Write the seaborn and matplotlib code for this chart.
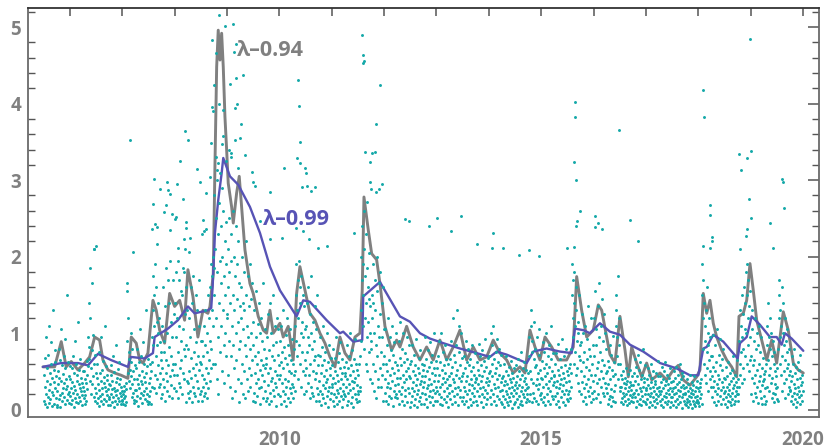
import matplotlib
matplotlib.use("Agg")
import matplotlib.pyplot as plt
import seaborn as sns
import pandas as pd
from matplotlib.ticker import FixedLocator, MultipleLocator, FuncFormatter

# ---------------- data ----------------
# EWMA volatility, lambda = 0.94 (gray)
years_094 = [2005.485, 2005.709, 2005.835, 2005.930, 2006.026, 2006.154, 2006.282, 2006.377, 2006.473, 2006.568,
             2006.631, 2006.727, 2006.854, 2006.981, 2007.108, 2007.172, 2007.267, 2007.332, 2007.395, 2007.490,
             2007.586, 2007.649, 2007.714, 2007.809, 2007.905, 2008.000, 2008.096, 2008.191, 2008.254, 2008.350,
             2008.445, 2008.541, 2008.636, 2008.675, 2008.738, 2008.770, 2008.803, 2008.833, 2008.866, 2008.898,
             2008.929, 2008.961, 2008.994, 2009.024, 2009.089, 2009.120, 2009.184, 2009.234, 2009.280, 2009.343,
             2009.438, 2009.501, 2009.597, 2009.693, 2009.757, 2009.820, 2009.884, 2010.011, 2010.074, 2010.170,
             2010.265, 2010.330, 2010.393, 2010.489, 2010.584, 2010.680, 2010.775, 2010.871, 2010.966, 2011.062,
             2011.157, 2011.253, 2011.348, 2011.444, 2011.539, 2011.583, 2011.616, 2011.698, 2011.763, 2011.858,
             2011.921, 2012.017, 2012.145, 2012.240, 2012.303, 2012.431, 2012.557, 2012.685, 2012.813, 2012.939,
             2013.067, 2013.195, 2013.321, 2013.449, 2013.577, 2013.703, 2013.831, 2013.959, 2014.085, 2014.213,
             2014.341, 2014.467, 2014.595, 2014.691, 2014.786, 2014.882, 2014.977, 2015.073, 2015.201, 2015.327,
             2015.487, 2015.613, 2015.678, 2015.773, 2015.869, 2015.995, 2016.091, 2016.156, 2016.251, 2016.314,
             2016.410, 2016.505, 2016.601, 2016.664, 2016.729, 2016.824, 2016.920, 2017.015, 2017.111, 2017.270,
             2017.397, 2017.523, 2017.619, 2017.714, 2017.842, 2017.970, 2018.033, 2018.096, 2018.161, 2018.224,
             2018.287, 2018.352, 2018.447, 2018.543, 2018.638, 2018.734, 2018.778, 2018.860, 2018.925, 2018.988,
             2019.051, 2019.116, 2019.211, 2019.307, 2019.402, 2019.498, 2019.624, 2019.719, 2019.815, 2019.910,
             2020.006]
vol_094 = [0.56, 0.56, 0.89, 0.56, 0.63, 0.52, 0.61, 0.69, 0.95, 0.91,
           0.65, 0.52, 0.48, 0.45, 0.41, 0.95, 0.87, 0.65, 0.61, 0.74,
           1.43, 1.30, 1.04, 0.87, 1.52, 1.35, 1.43, 1.17, 1.83, 1.48,
           0.95, 1.30, 1.26, 1.35, 1.78, 3.18, 4.48, 4.96, 4.57, 4.92,
           4.48, 3.83, 3.39, 2.96, 2.65, 2.44, 2.83, 3.05, 2.65, 2.09,
           1.65, 1.52, 1.22, 1.04, 1.00, 1.30, 1.00, 1.13, 0.95, 1.09,
           0.65, 1.52, 1.87, 1.56, 1.26, 1.17, 1.00, 0.87, 0.69, 0.56,
           0.95, 0.74, 0.65, 0.95, 1.00, 1.56, 2.78, 2.35, 2.04, 1.96,
           1.65, 1.09, 0.78, 0.91, 0.82, 1.09, 0.82, 0.65, 0.82, 0.65,
           0.91, 0.65, 0.82, 1.04, 0.65, 0.82, 0.65, 0.69, 0.91, 0.74,
           0.65, 0.48, 0.56, 0.48, 1.04, 0.82, 0.65, 0.95, 0.82, 0.65,
           0.65, 0.82, 1.74, 1.30, 0.95, 1.04, 1.37, 1.30, 0.95, 0.72,
           0.61, 1.22, 0.78, 0.43, 0.82, 0.61, 0.43, 0.61, 0.39, 0.48,
           0.39, 0.52, 0.58, 0.39, 0.32, 0.43, 0.52, 1.52, 1.26, 1.43,
           1.13, 0.95, 0.78, 0.65, 0.56, 0.43, 1.22, 1.26, 1.43, 1.91,
           1.56, 1.17, 0.91, 0.65, 0.91, 0.61, 1.28, 1.04, 0.61, 0.52,
           0.48]

# EWMA volatility, lambda = 0.99 (blue)
years_099 = [2005.485, 2005.835, 2006.154, 2006.345, 2006.536, 2006.784, 2007.108, 2007.166, 2007.427, 2007.586,
             2007.618, 2007.872, 2008.063, 2008.254, 2008.382, 2008.636, 2008.699, 2008.726, 2008.770, 2008.833,
             2008.898, 2008.929, 2009.057, 2009.215, 2009.439, 2009.630, 2009.821, 2010.012, 2010.330, 2010.456,
             2010.584, 2010.903, 2011.157, 2011.220, 2011.411, 2011.583, 2011.602, 2011.921, 2012.303, 2012.494,
             2012.685, 2012.876, 2013.130, 2013.449, 2013.768, 2014.022, 2014.150, 2014.341, 2014.723, 2014.849,
             2015.105, 2015.359, 2015.582, 2015.645, 2015.804, 2015.932, 2016.123, 2016.314, 2016.505, 2016.696,
             2016.950, 2017.270, 2017.588, 2017.842, 2018.001, 2018.096, 2018.161, 2018.287, 2018.478, 2018.753,
             2018.797, 2018.925, 2019.020, 2019.178, 2019.369, 2019.498, 2019.593, 2019.656, 2019.784, 2020.006]
vol_099 = [0.56, 0.61, 0.61, 0.58, 0.73, 0.65, 0.56, 0.69, 0.67, 0.74,
           0.95, 1.06, 1.17, 1.35, 1.26, 1.30, 1.33, 1.61, 2.31, 2.74,
           3.09, 3.29, 3.05, 2.94, 2.65, 2.31, 1.87, 1.56, 1.22, 1.43,
           1.41, 1.17, 1.00, 1.02, 0.89, 0.91, 1.48, 1.67, 1.22, 1.15,
           1.00, 0.93, 0.87, 0.80, 0.74, 0.69, 0.76, 0.72, 0.61, 0.76,
           0.80, 0.76, 0.74, 1.06, 1.04, 1.00, 1.13, 1.02, 0.98, 0.85,
           0.76, 0.61, 0.54, 0.45, 0.45, 0.80, 0.82, 0.98, 0.89, 0.67,
           0.87, 0.95, 1.22, 1.11, 0.95, 0.95, 0.85, 1.00, 0.93, 0.77]

# daily absolute returns (hundredths), one string per quarter starting 2005 Q3
first_quarter = 2005.5
quarter_returns = [
    "12 45 8 67 30 21 95 4 38 55 17 72 26 110 9 48 33 14 60 88 5 41 23 130 19 52 36 7 78 28 62 15 44 3",
    "25 6 51 33 80 14 42 19 65 3 37 105 22 58 11 29 47 70 16 35 92 8 54 27 40 13 150 31 62 20 44 9 23 57",
    "18 40 7 29 55 13 36 70 22 4 48 31 90 15 26 60 10 38 21 45 115 9 33 52 17 28 66 12 41 24 35 6 19 50",
    "30 15 50 24 8 40 19 35 12 46 27 64 95 57 140 82 66 120 38 185 55 21 78 165 33 44 98 60 16 210 28 72 11 48",
    "22 9 41 60 15 33 75 26 5 48 18 37 95 12 28 52 20 64 8 35 43 14 30 110 24 57 11 39 19 46 27 6 33 16",
    "14 32 6 45 21 58 10 27 38 17 70 4 29 49 12 24 36 85 19 8 41 26 53 15 33 11 62 22 40 18 30 7 25 13",
    "12 20 8 31 15 24 6 18 35 10 27 155 165 90 48 120 66 75 37 52 28 100 44 62 16 80 33 22 50 13 40 9 58 26",
    "26 55 12 40 80 18 33 5 62 29 46 105 15 38 70 22 9 51 34 88 19 43 24 60 14 36 130 28 48 11 57 20 7 66",
    "18 35 10 42 25 60 8 50 30 95 62 130 175 85 28 150 110 45 190 70 22 160 115 40 85 140 58 100 30 120 48 88 33 65 15 75",
    "55 20 110 40 160 75 30 90 12 135 48 185 65 25 100 38 170 58 18 82 140 44 195 70 32 115 52 15 95 60 170 28 125 45",
    "60 140 25 95 180 45 120 15 75 195 35 110 170 55 30 90 155 65 150 20 105 48 185 80 40 180 70 125 10 160 85 38 130 22",
    "35 80 15 120 50 25 95 160 42 68 10 140 30 55 175 22 75 105 45 18 88 60 150 38 130 28 70 12 110 52 170 20 63 90",
    "25 60 12 45 90 30 70 18 110 40 85 22 130 55 35 75 15 100 48 150 28 65 120 38 90 160 55 190 80 130 175 60 200 110 185",
    "150 280 60 210 330 120 250 40 180 300 95 230 20 270 140 195 310 75 240 165 110 290 50 200 130 260 85 175 35 220 100 150 245 70 190 125",
    "120 210 45 160 250 90 180 30 140 230 70 195 15 110 260 85 150 55 200 130 25 175 100 240 65 145 190 40 115 220 80 165 10 135",
    "90 160 35 120 200 60 140 20 105 180 50 130 15 85 220 70 150 40 110 25 175 95 55 135 190 30 80 145 45 100 165 65 12 115",
    "85 22 130 48 10 70 155 35 95 60 18 112 40 75 28 140 52 8 100 65 30 120 45 90 15 58 165 38 80 25 105 55 12 68",
    "60 15 95 32 125 48 8 78 22 140 55 38 100 12 70 42 85 26 150 18 65 110 35 50 5 88 30 120 45 72 20 105 58 40",
    "45 90 18 62 8 110 35 75 25 55 130 12 82 40 68 20 98 30 5 60 120 38 15 85 50 72 28 105 10 48 65 22 92 33",
    "30 60 15 45 80 25 110 50 150 90 190 130 70 170 40 120 195 85 160 60 140 100 30 175 75 115 50 150 95 20 135 65 105 45",
    "55 110 25 140 75 35 95 160 45 85 15 125 60 30 100 175 22 80 115 50 18 90 65 135 40 70 12 105 48 150 28 72 58 20",
    "38 12 70 25 95 48 6 58 20 82 32 110 15 44 65 28 9 75 36 52 18 100 40 4 62 24 85 30 55 14 46 68 22 34",
    "30 58 12 42 80 20 5 50 35 68 16 95 26 8 45 62 22 38 74 11 54 28 88 40 18 3 48 66 24 34 14 56 20 44",
    "48 18 62 30 6 85 40 22 55 12 70 34 100 26 45 9 58 38 16 78 28 50 4 66 36 20 92 42 14 60 32 10 52 24",
    "20 45 12 60 30 70 25 90 130 200 170 240 110 190 150 260 80 210 120 175 60 230 140 95 185 50 160 115 205 75 145 100 40 135 90",
    "80 150 35 120 190 60 140 25 100 170 50 130 15 85 200 70 155 40 110 30 165 95 55 125 180 30 75 140 45 95 160 60 12 105",
    "70 22 105 40 12 60 30 85 50 8 120 35 65 18 95 45 28 78 15 55 110 38 5 72 25 88 48 16 62 32 100 20 42 58",
    "15 52 34 90 24 8 68 42 115 20 58 30 80 12 46 100 36 6 62 26 74 18 50 40 95 10 66 28 54 84 22 44 4 60",
    "42 10 64 28 85 18 50 36 6 72 24 46 14 58 32 92 20 40 3 54 26 68 12 48 34 78 16 38 8 60 22 44 30 52",
    "8 36 58 20 95 44 14 66 28 50 4 78 32 18 56 40 88 24 10 62 34 48 16 72 26 6 54 38 100 22 46 12 64 30",
    "55 25 12 70 38 90 20 46 8 62 30 100 16 52 34 6 76 42 24 58 14 84 36 48 10 66 28 40 18 60 4 44 32 22",
    "32 66 14 48 90 24 8 56 40 120 18 72 36 10 62 28 84 46 20 130 52 30 6 76 42 110 16 58 26 100 38 12 68 44",
    "48 16 30 70 8 54 24 90 38 12 62 20 44 4 80 34 58 26 14 66 40 6 50 22 84 32 10 56 28 46 18 74 36 42",
    "12 40 62 24 6 52 34 86 18 46 28 70 10 58 38 20 78 44 4 30 64 16 50 26 92 36 8 56 22 42 14 68 32 48",
    "38 70 16 50 100 26 8 60 44 85 20 110 34 12 66 48 28 76 6 54 40 92 18 62 30 14 80 46 24 58 36 10 72 42",
    "26 8 44 18 60 32 4 38 14 50 24 70 10 34 20 46 6 28 56 16 40 12 64 22 36 2 48 30 18 42 8 54 26 32",
    "10 36 22 58 14 44 28 4 66 32 18 50 8 40 24 76 12 46 30 6 54 20 38 16 62 26 42 10 34 52 20 28 14 48",
    "30 70 12 95 50 20 130 110 40 75 10 90 35 22 66 115 15 56 80 32 12 58 40 95 27 48 8 72 34 105 19 52 42 14",
    "22 64 40 10 88 30 54 16 76 44 6 60 34 100 20 48 70 28 12 84 38 56 24 8 66 42 110 18 50 32 74 14 46 36",
    "44 18 60 30 8 74 38 22 52 12 86 28 46 4 66 34 16 56 40 24 92 10 48 32 70 20 42 6 58 26 80 36 14 50",
    "20 45 12 38 25 55 15 60 30 48 80 150 190 120 170 95 140 60 180 110 75 160 45 130 90 55 115 35 100 70 150 25 85 65",
    "50 20 88 36 125 62 12 100 44 28 75 16 110 56 34 8 92 66 24 135 40 18 80 52 30 70 10 120 46 22 60 38 85 14",
    "70 25 120 45 155 85 15 105 55 35 135 62 20 95 40 165 75 10 110 50 30 145 65 22 90 42 125 58 18 100 35 80 48 28",
    "22 50 8 64 34 14 56 84 18 40 5 72 27 16 52 96 11 44 62 25 10 47 32 150 110 130 70 95 40 175 60 120 85 30",
    "25 60 10 45 30 15 40 22 50 8 35 18 42 28 12 55 20 33 6 38 24 14 47 30 9 36 19 52 26 11 32 16 44 21",
    "32 10 48 22 66 16 38 4 56 26 12 44 72 20 34 8 52 28 62 14 40 24 6 46 18 80 30 12 42 36 20 58 10 28",
    "8 26 40 14 54 20 32 4 46 18 28 10 60 36 22 6 42 16 30 50 12 24 38 3 34 20 48 14 28 9 44 18 64 24",
    "30 12 44 20 6 36 24 56 14 40 28 4 50 18 32 10 62 22 38 16 8 46 26 34 12 42 20 3 54 28 16 36 10 24",
    "16 38 6 28 50 20 12 42 30 4 56 22 34 14 46 26 8 36 18 60 24 10 40 30 2 48 16 32 20 44 12 28 22 8",
    "20 6 30 14 40 10 24 4 34 18 12 28 46 8 22 16 36 2 26 12 32 20 7 44 16 24 5 30 10 38 18 13 28 9",
    "10 25 5 30 15 35 20 40 8 150 190 120 170 80 140 60 110 45 90 130 35 75 160 55 100 25 85 65 120 40 95 50 70 30",
    "44 16 70 30 98 56 10 38 24 85 50 6 62 34 105 20 46 28 12 72 40 58 18 92 26 8 66 36 52 14 80 30 42 22",
    "24 8 40 16 56 30 4 44 20 12 62 34 26 10 48 18 38 6 52 22 14 70 28 42 8 32 18 46 12 36 24 65 20 30",
    "20 40 12 30 90 60 130 45 110 75 150 35 95 125 55 80 160 40 105 70 140 180 100 150 60 190 120 85 170 50 135 95 155 65",
    "70 20 105 42 130 58 12 90 35 65 22 120 45 80 16 100 52 30 85 9 60 38 110 24 75 44 15 95 32 55 7 68 37 47",
    "18 40 8 50 28 12 60 85 30 110 65 140 45 95 25 120 55 80 35 100 15 70 42 90 22 60 10 75 33 50 20 44 28 14",
    "30 55 12 80 150 120 170 60 130 95 45 110 160 70 25 100 140 50 85 35 120 65 15 90 40 105 55 75 20 60 30 80 45 25",
    "26 50 12 38 70 18 44 8 60 22 34 80 14 48 28 4 56 20 40 10 63 30 16 52 24 42 7 72 32 19 46 11 36 25",
]

# large daily moves read individually
outlier_years = [2006.453, 2006.497, 2007.152, 2007.198, 2007.567, 2007.586, 2007.599, 2007.618, 2007.657, 2007.660,
                 2007.714, 2007.796, 2007.828, 2007.848, 2007.867, 2007.905, 2007.910, 2007.943, 2008.006, 2008.030,
                 2008.039, 2008.063, 2008.096, 2008.159, 2008.178, 2008.191, 2008.203, 2008.216, 2008.220, 2008.254,
                 2008.279, 2008.293, 2008.432, 2008.484, 2008.522, 2008.541, 2008.560, 2008.592, 2008.598, 2008.675,
                 2008.688, 2008.716, 2008.715, 2008.738, 2008.757, 2008.795, 2008.808, 2008.822, 2008.846, 2008.850,
                 2008.909, 2008.923, 2008.930, 2008.961, 2008.980, 2009.037, 2009.056, 2009.070, 2009.076, 2009.108,
                 2009.127, 2009.146, 2009.158, 2009.165, 2009.177, 2009.190, 2009.204, 2009.247, 2009.272, 2009.299,
                 2009.343, 2009.471, 2009.501, 2009.534, 2009.629, 2009.826, 2009.830, 2010.050, 2010.094, 2010.311,
                 2010.342, 2010.355, 2010.380, 2010.399, 2010.402, 2010.437, 2010.451, 2010.495, 2010.514, 2010.533,
                 2010.560, 2010.604, 2010.674, 2010.737, 2010.915, 2011.419, 2011.583, 2011.596, 2011.602, 2011.616,
                 2011.629, 2011.667, 2011.725, 2011.730, 2011.749, 2011.774, 2011.820, 2011.839, 2011.851, 2011.902,
                 2011.916, 2011.960, 2012.404, 2012.481, 2012.851, 2013.004, 2013.283, 2013.463, 2013.768, 2014.060,
                 2014.085, 2014.276, 2014.576, 2014.773, 2014.964, 2015.487, 2015.626, 2015.632, 2015.646, 2015.651,
                 2015.665, 2015.670, 2015.680, 2015.735, 2016.022, 2016.033, 2016.085, 2016.167, 2016.480, 2016.696,
                 2016.854, 2018.090, 2018.096, 2018.109, 2018.222, 2018.225, 2018.229, 2018.256, 2018.262, 2018.778,
                 2018.800, 2018.810, 2018.905, 2018.925, 2018.930, 2018.974, 2018.988, 2019.007, 2019.010, 2019.370,
                 2019.421, 2019.593, 2019.612, 2019.643]
outlier_values = [2.10, 2.14, 3.53, 2.06, 2.36, 2.69, 3.01, 2.43, 2.39, 2.17,
                  2.88, 2.59, 2.68, 2.98, 2.87, 2.82, 2.35, 2.56, 2.49, 2.52,
                  2.95, 2.12, 3.25, 2.75, 2.23, 3.64, 2.10, 2.45, 2.37, 3.53,
                  2.06, 2.25, 3.14, 2.98, 2.30, 2.48, 2.34, 2.36, 2.83, 3.04,
                  3.48, 3.95, 4.83, 3.90, 4.24, 4.66, 3.13, 3.23, 5.16, 4.00,
                  3.47, 3.92, 3.58, 5.01, 3.25, 3.40, 4.26, 3.30, 3.36, 5.04,
                  4.67, 3.94, 3.53, 4.78, 4.34, 3.99, 3.16, 3.55, 3.73, 4.37,
                  3.33, 3.11, 2.97, 2.93, 2.46, 2.84, 2.23, 2.24, 3.16, 2.37,
                  3.29, 4.31, 3.97, 3.50, 3.23, 2.91, 2.33, 3.16, 3.09, 2.93,
                  2.23, 2.86, 2.91, 2.11, 2.14, 2.31, 4.90, 4.53, 4.63, 4.56,
                  3.37, 2.71, 3.24, 2.98, 2.89, 3.36, 3.37, 2.84, 3.74, 2.88,
                  4.24, 2.95, 2.49, 2.46, 2.40, 2.51, 2.33, 2.53, 2.16, 2.11,
                  2.31, 2.11, 2.02, 2.09, 2.01, 2.11, 2.13, 3.24, 4.02, 3.83,
                  3.00, 2.40, 2.47, 2.60, 2.39, 2.53, 2.44, 2.36, 3.66, 2.48,
                  2.20, 2.14, 4.18, 3.83, 2.12, 2.55, 2.68, 2.26, 2.21, 3.34,
                  2.10, 3.13, 2.27, 3.29, 2.36, 2.75, 4.84, 3.38, 2.51, 2.44,
                  2.12, 3.02, 2.97, 2.63]

label_094 = "λ–0.94"
label_099 = "λ–0.99"
x_ticks = list(range(2006, 2021))

# ---------------- build tables ----------------
pts_x, pts_y = [], []
for k, s in enumerate(quarter_returns):
    vals = [int(v) / 100 for v in s.split()]
    n = len(vals)
    for j, v in enumerate(vals):
        pts_x.append(first_quarter + 0.25 * k + 0.25 * (j + 0.5) / n)
        pts_y.append(v)
pts_x += outlier_years
pts_y += outlier_values
points = pd.DataFrame({"year": pts_x, "ret": pts_y})
line94 = pd.DataFrame({"year": years_094, "vol": vol_094})
line99 = pd.DataFrame({"year": years_099, "vol": vol_099})

# ---------------- style ----------------
sns.set_theme(style="white")
plt.rcParams["font.family"] = ["Open Sans", "DejaVu Sans"]
plt.rcParams["font.weight"] = "bold"

GRAY = "#808080"
BLUE = "#5753b5"
TEAL = "#14a8a8"

fig = plt.figure(figsize=(8.26, 4.48), dpi=100)
ax = fig.add_axes([28 / 826, 1 - 417 / 448, (819 - 28) / 826, (417 - 8) / 448])

sns.lineplot(data=line94, x="year", y="vol", ax=ax, color=GRAY, linewidth=2.1,
             estimator=None, sort=False, zorder=2)
sns.lineplot(data=line99, x="year", y="vol", ax=ax, color=BLUE, linewidth=1.7,
             estimator=None, sort=False, zorder=3)
sns.scatterplot(data=points, x="year", y="ret", ax=ax, color=TEAL, s=4.5,
                linewidth=0, zorder=4)

ax.set_xlim(2005.2, 2020.306)
ax.set_ylim(-0.095, 5.25)
ax.set_xlabel("")
ax.set_ylabel("")

ax.xaxis.set_major_locator(FixedLocator(x_ticks))
ax.xaxis.set_major_formatter(FuncFormatter(lambda v, p: f"{int(round(v))}" if int(round(v)) % 5 == 0 else ""))
ax.yaxis.set_major_locator(MultipleLocator(1))
ax.yaxis.set_minor_locator(MultipleLocator(0.2))
ax.yaxis.set_major_formatter(FuncFormatter(lambda v, p: f"{int(round(v))}"))

ax.tick_params(axis="both", which="major", direction="in", top=True, right=True,
               length=6, width=1.1, color="#555555", labelcolor=GRAY, labelsize=13.5)
ax.tick_params(axis="y", which="major", length=8)
ax.tick_params(axis="y", which="minor", direction="in", left=True, right=True,
               length=5, width=1.0, color="#555555")
ax.tick_params(axis="x", which="major", pad=9)
ax.tick_params(axis="y", which="major", pad=5)

for sp in ax.spines.values():
    sp.set_color("#6a6a6a")
    sp.set_linewidth(1.3)
ax.spines["top"].set_color("#333333")

ax.text(2009.19, 4.69, label_094, color=GRAY, fontsize=15.5, fontweight="bold",
        ha="left", va="center", zorder=5)
ax.text(2009.69, 2.49, label_099, color=BLUE, fontsize=15.5, fontweight="bold",
        ha="left", va="center", zorder=5)

fig.savefig("out.png", dpi=100)
